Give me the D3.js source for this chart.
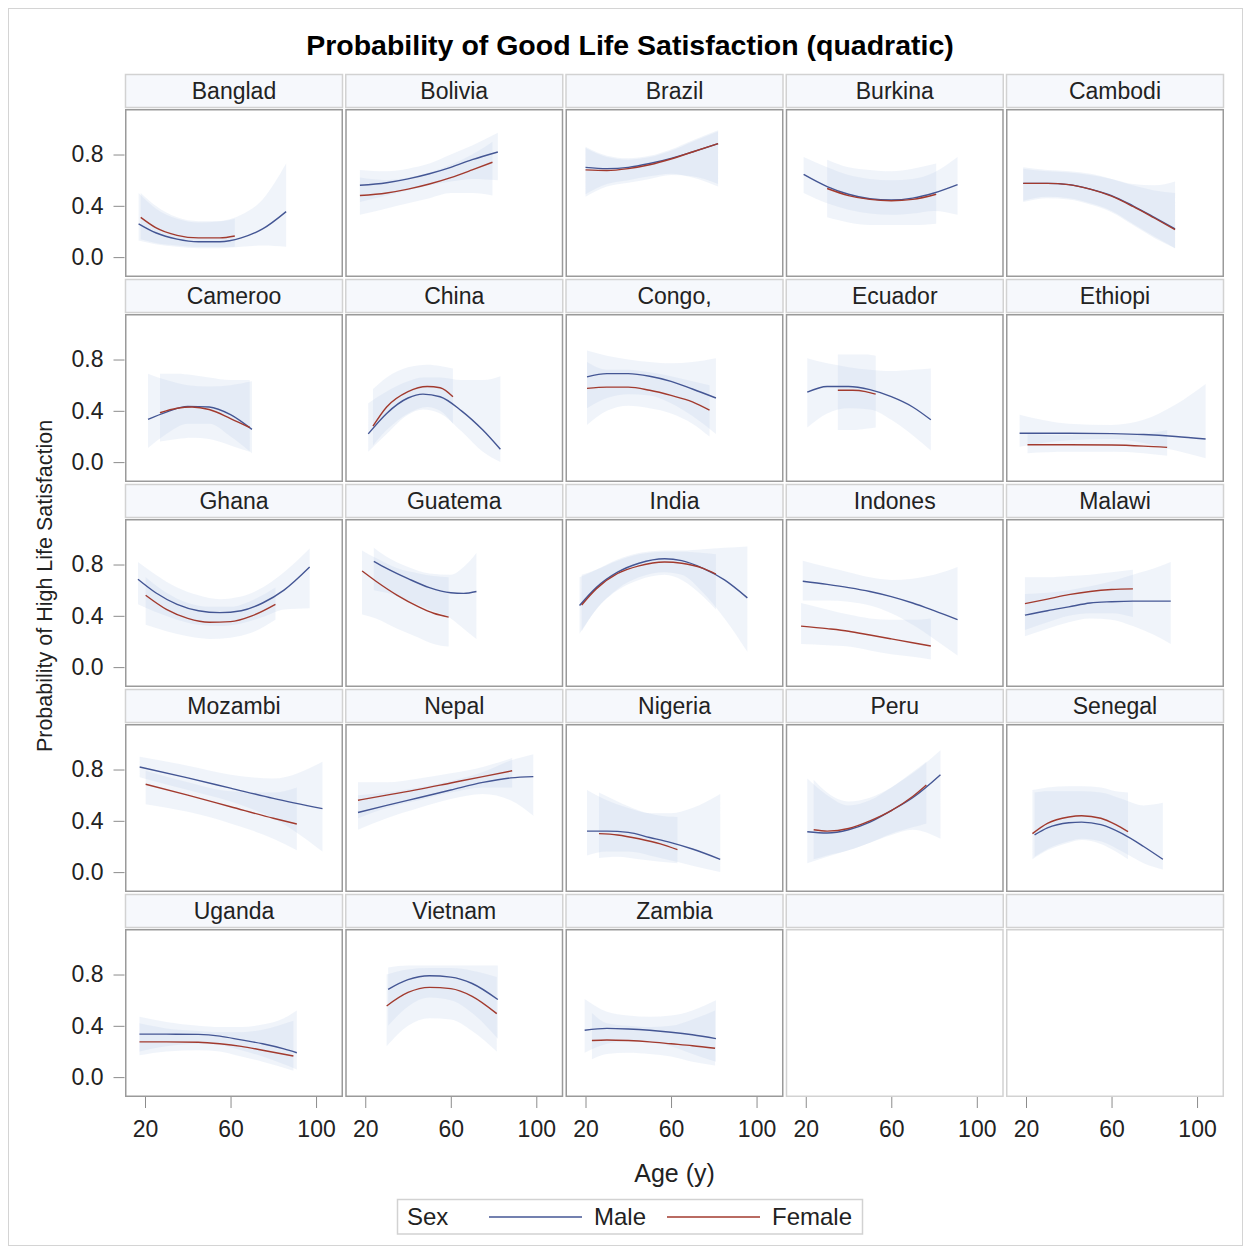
<!DOCTYPE html>
<html lang="en">
<head>
    <meta charset="UTF-8">
    <title>Probability of Good Life Satisfaction (quadratic)</title>
    <script src="https://cdn.jsdelivr.net/npm/d3@7/dist/d3.min.js"></script>
    <style>
        body { margin: 0; background: #fff; }
        text { font-family: "Liberation Sans", Arial, sans-serif; fill: #222; }
    </style>
</head>
<body>

<script>
    // panel labels, as truncated in the original output
    var countries = ["Banglad", "Bolivia", "Brazil", "Burkina", "Cambodi",
        "Cameroo", "China", "Congo,", "Ecuador", "Ethiopi",
        "Ghana", "Guatema", "India", "Indones", "Malawi",
        "Mozambi", "Nepal", "Nigeria", "Peru", "Senegal",
        "Uganda", "Vietnam", "Zambia"];

    var sexes = ["Male", "Female"];
    var xTicks = [20, 60, 100];
    var yTicks = [0.0, 0.4, 0.8];

    // male: age, fitted probability, lower and upper limits
    var maleAge = [
        [17, 25, 35, 45, 55, 65, 75, 86],
        [17.5, 30, 40, 50, 60, 70, 82],
        [20, 30, 40, 50, 60, 70, 82],
        [19, 30, 40, 50, 60, 70, 80, 91],
        [18.7, 30, 40, 50, 60, 70, 80, 89.7],
        [21.4, 30, 40, 50, 60, 70],
        [21.4, 30, 40, 47, 55, 65, 75, 83.2],
        [20.7, 30, 40, 50, 60, 70, 81],
        [20.7, 30, 40, 50, 60, 70, 78.5],
        [17, 40, 60, 75, 90, 104],
        [16.7, 25, 35, 45, 55, 65, 75, 85, 97],
        [24, 30, 40, 50, 60, 66, 72],
        [17.2, 25, 35, 45, 57, 65, 75, 85, 95.7],
        [18.6, 30, 40, 50, 60, 70, 80, 91],
        [19.5, 30, 40, 50, 60, 70, 80, 87.7],
        [17.5, 40, 60, 80, 103],
        [16.6, 30, 45, 60, 75, 88, 98.6],
        [20.7, 30, 40, 50, 60, 70, 83],
        [20.7, 30, 40, 50, 60, 70, 83],
        [24, 30, 40, 46, 55, 65, 75, 84],
        [17.4, 30, 45, 55, 65, 75, 85, 91],
        [30.7, 40, 50, 60, 70, 82],
        [19.6, 30, 40, 50, 60, 70, 81]
    ];
    var maleFit = [
        [0.26, 0.19, 0.14, 0.12, 0.12, 0.15, 0.22, 0.355],
        [0.56, 0.58, 0.61, 0.65, 0.70, 0.76, 0.82],
        [0.70, 0.69, 0.70, 0.73, 0.77, 0.82, 0.885],
        [0.645, 0.55, 0.49, 0.455, 0.445, 0.46, 0.50, 0.565],
        [0.575, 0.575, 0.565, 0.53, 0.48, 0.40, 0.31, 0.22],
        [0.333, 0.39, 0.435, 0.43, 0.37, 0.255],
        [0.22, 0.38, 0.50, 0.53, 0.51, 0.40, 0.25, 0.10],
        [0.665, 0.69, 0.69, 0.67, 0.63, 0.57, 0.50],
        [0.545, 0.59, 0.59, 0.565, 0.51, 0.43, 0.33],
        [0.225, 0.225, 0.222, 0.215, 0.20, 0.18],
        [0.685, 0.58, 0.49, 0.44, 0.425, 0.44, 0.50, 0.60, 0.78],
        [0.825, 0.77, 0.69, 0.62, 0.58, 0.575, 0.59],
        [0.48, 0.62, 0.74, 0.81, 0.845, 0.83, 0.77, 0.68, 0.54],
        [0.67, 0.645, 0.62, 0.59, 0.55, 0.50, 0.44, 0.37],
        [0.405, 0.44, 0.47, 0.50, 0.51, 0.515, 0.515, 0.515],
        [0.82, 0.735, 0.655, 0.575, 0.495],
        [0.465, 0.52, 0.58, 0.64, 0.70, 0.735, 0.745],
        [0.32, 0.32, 0.31, 0.27, 0.23, 0.18, 0.10],
        [0.315, 0.305, 0.33, 0.39, 0.48, 0.58, 0.76],
        [0.29, 0.345, 0.385, 0.39, 0.37, 0.30, 0.20, 0.10],
        [0.335, 0.335, 0.333, 0.32, 0.29, 0.26, 0.22, 0.19],
        [0.685, 0.76, 0.79, 0.78, 0.73, 0.605],
        [0.365, 0.38, 0.375, 0.365, 0.35, 0.33, 0.30]
    ];
    var maleLo = [
        [0.13, 0.10, 0.08, 0.07, 0.07, 0.08, 0.09, 0.08],
        [0.43, 0.48, 0.52, 0.56, 0.59, 0.61, 0.60],
        [0.49, 0.57, 0.60, 0.63, 0.65, 0.62, 0.55],
        [0.50, 0.42, 0.37, 0.34, 0.33, 0.34, 0.36, 0.33],
        [0.44, 0.47, 0.46, 0.42, 0.36, 0.26, 0.16, 0.07],
        [0.11, 0.22, 0.30, 0.30, 0.20, 0.07],
        [0.08, 0.22, 0.37, 0.41, 0.38, 0.24, 0.08, 0.0],
        [0.42, 0.50, 0.53, 0.52, 0.46, 0.36, 0.22],
        [0.27, 0.38, 0.42, 0.41, 0.33, 0.21, 0.09],
        [0.12, 0.17, 0.18, 0.15, 0.09, 0.03],
        [0.49, 0.43, 0.37, 0.33, 0.32, 0.34, 0.39, 0.45, 0.46],
        [0.60, 0.58, 0.52, 0.45, 0.38, 0.30, 0.22],
        [0.26, 0.45, 0.61, 0.70, 0.74, 0.72, 0.58, 0.38, 0.12],
        [0.52, 0.52, 0.51, 0.48, 0.42, 0.33, 0.22, 0.09],
        [0.24, 0.30, 0.35, 0.38, 0.37, 0.32, 0.25, 0.18],
        [0.74, 0.64, 0.55, 0.42, 0.16],
        [0.33, 0.42, 0.50, 0.57, 0.61, 0.56, 0.44],
        [0.13, 0.16, 0.16, 0.13, 0.09, 0.05, 0.0],
        [0.07, 0.12, 0.17, 0.23, 0.29, 0.33, 0.26],
        [0.12, 0.18, 0.24, 0.26, 0.24, 0.16, 0.07, 0.02],
        [0.20, 0.24, 0.26, 0.25, 0.21, 0.16, 0.10, 0.06],
        [0.40, 0.55, 0.62, 0.60, 0.50, 0.30],
        [0.19, 0.26, 0.28, 0.27, 0.24, 0.18, 0.12]
    ];
    var maleHi = [
        [0.50, 0.38, 0.30, 0.27, 0.28, 0.33, 0.45, 0.73],
        [0.68, 0.67, 0.69, 0.73, 0.80, 0.87, 0.97],
        [0.86, 0.79, 0.77, 0.79, 0.84, 0.91, 0.99],
        [0.78, 0.70, 0.64, 0.61, 0.60, 0.61, 0.66, 0.78],
        [0.69, 0.67, 0.66, 0.64, 0.61, 0.57, 0.56, 0.59],
        [0.69, 0.64, 0.60, 0.59, 0.60, 0.63],
        [0.46, 0.55, 0.63, 0.66, 0.66, 0.64, 0.64, 0.67],
        [0.87, 0.83, 0.80, 0.78, 0.77, 0.78, 0.81],
        [0.81, 0.77, 0.74, 0.72, 0.71, 0.72, 0.73],
        [0.37, 0.30, 0.29, 0.33, 0.45, 0.61],
        [0.82, 0.72, 0.62, 0.56, 0.53, 0.55, 0.62, 0.74, 0.925],
        [0.93, 0.86, 0.78, 0.73, 0.72, 0.78, 0.89],
        [0.70, 0.76, 0.84, 0.89, 0.91, 0.91, 0.92, 0.93, 0.94],
        [0.83, 0.78, 0.74, 0.70, 0.68, 0.69, 0.72, 0.78],
        [0.57, 0.58, 0.60, 0.63, 0.67, 0.72, 0.77, 0.82],
        [0.90, 0.83, 0.76, 0.73, 0.86],
        [0.60, 0.62, 0.66, 0.71, 0.78, 0.87, 0.92],
        [0.64, 0.56, 0.50, 0.46, 0.46, 0.50, 0.61],
        [0.73, 0.60, 0.52, 0.56, 0.66, 0.77, 0.95],
        [0.62, 0.63, 0.63, 0.63, 0.62, 0.57, 0.52, 0.54],
        [0.47, 0.43, 0.40, 0.39, 0.39, 0.41, 0.46, 0.52],
        [0.855, 0.87, 0.87, 0.87, 0.87, 0.87],
        [0.61, 0.51, 0.48, 0.47, 0.48, 0.52, 0.60]
    ];

    // female: same layout
    var femaleAge = [
        [18, 25, 35, 45, 55, 62],
        [17.5, 30, 40, 50, 60, 70, 79.5],
        [20, 30, 40, 50, 60, 70, 82],
        [30, 40, 50, 60, 70, 81],
        [18.7, 30, 40, 50, 60, 70, 80, 89.7],
        [27, 35, 42, 50, 60, 69],
        [23.6, 30, 40, 49, 55, 61],
        [20.7, 30, 40, 50, 60, 70, 78],
        [35, 42, 48, 52.7],
        [20.7, 40, 60, 75, 86],
        [20.3, 30, 40, 50, 60, 70, 81],
        [18.5, 25, 35, 45, 52, 59],
        [18.2, 25, 35, 45, 57, 65, 75, 81],
        [17.8, 30, 40, 50, 60, 70, 78.5],
        [19.5, 30, 40, 50, 60, 70],
        [20.3, 40, 60, 80, 91],
        [16.6, 30, 45, 60, 75, 88.7],
        [26.3, 35, 45, 55, 63],
        [23.7, 30, 40, 50, 60, 70, 76.4],
        [23, 30, 40, 46, 55, 62, 67.7],
        [17.4, 30, 45, 55, 65, 75, 89.4],
        [30, 40, 50, 60, 70, 81.5],
        [23, 30, 40, 50, 60, 70, 80.6]
    ];
    var femaleFit = [
        [0.31, 0.23, 0.17, 0.15, 0.15, 0.165],
        [0.48, 0.50, 0.53, 0.57, 0.62, 0.68, 0.74],
        [0.68, 0.675, 0.69, 0.72, 0.765, 0.82, 0.885],
        [0.535, 0.48, 0.45, 0.44, 0.45, 0.49],
        [0.575, 0.575, 0.565, 0.53, 0.475, 0.395, 0.305, 0.215],
        [0.385, 0.42, 0.43, 0.41, 0.34, 0.27],
        [0.28, 0.43, 0.55, 0.59, 0.58, 0.51],
        [0.575, 0.585, 0.585, 0.56, 0.52, 0.47, 0.405],
        [0.56, 0.56, 0.55, 0.53],
        [0.135, 0.135, 0.133, 0.125, 0.115],
        [0.56, 0.45, 0.38, 0.35, 0.355, 0.40, 0.49],
        [0.75, 0.67, 0.56, 0.47, 0.42, 0.39],
        [0.485, 0.61, 0.73, 0.79, 0.82, 0.81, 0.77, 0.725],
        [0.32, 0.30, 0.28, 0.25, 0.22, 0.19, 0.165],
        [0.495, 0.53, 0.565, 0.59, 0.605, 0.61],
        [0.685, 0.60, 0.51, 0.42, 0.375],
        [0.56, 0.60, 0.645, 0.695, 0.745, 0.79],
        [0.30, 0.29, 0.26, 0.22, 0.175],
        [0.33, 0.32, 0.34, 0.40, 0.48, 0.59, 0.68],
        [0.30, 0.38, 0.43, 0.44, 0.42, 0.37, 0.315],
        [0.275, 0.275, 0.272, 0.26, 0.24, 0.21, 0.165],
        [0.555, 0.66, 0.70, 0.69, 0.63, 0.495],
        [0.285, 0.29, 0.285, 0.275, 0.26, 0.245, 0.225]
    ];
    var femaleLo = [
        [0.14, 0.11, 0.09, 0.08, 0.08, 0.08],
        [0.33, 0.38, 0.42, 0.46, 0.50, 0.50, 0.48],
        [0.47, 0.55, 0.58, 0.61, 0.64, 0.63, 0.57],
        [0.31, 0.27, 0.25, 0.25, 0.25, 0.26],
        [0.43, 0.46, 0.45, 0.41, 0.35, 0.25, 0.15, 0.07],
        [0.16, 0.18, 0.19, 0.18, 0.13, 0.08],
        [0.13, 0.25, 0.38, 0.43, 0.40, 0.30],
        [0.29, 0.40, 0.44, 0.42, 0.38, 0.30, 0.20],
        [0.25, 0.25, 0.26, 0.27],
        [0.07, 0.08, 0.08, 0.07, 0.05],
        [0.33, 0.28, 0.24, 0.22, 0.23, 0.27, 0.37],
        [0.41, 0.38, 0.30, 0.23, 0.18, 0.16],
        [0.28, 0.45, 0.60, 0.68, 0.72, 0.68, 0.55, 0.45],
        [0.18, 0.17, 0.16, 0.13, 0.10, 0.08, 0.06],
        [0.29, 0.35, 0.40, 0.42, 0.42, 0.39],
        [0.53, 0.47, 0.38, 0.26, 0.17],
        [0.42, 0.50, 0.56, 0.62, 0.66, 0.66],
        [0.11, 0.12, 0.10, 0.08, 0.07],
        [0.10, 0.13, 0.17, 0.23, 0.30, 0.35, 0.38],
        [0.10, 0.17, 0.23, 0.25, 0.22, 0.16, 0.10],
        [0.17, 0.20, 0.21, 0.20, 0.16, 0.12, 0.05],
        [0.24, 0.40, 0.46, 0.45, 0.36, 0.20],
        [0.14, 0.18, 0.19, 0.18, 0.16, 0.12, 0.09]
    ];
    var femaleHi = [
        [0.50, 0.40, 0.31, 0.28, 0.28, 0.30],
        [0.62, 0.60, 0.62, 0.66, 0.72, 0.80, 0.90],
        [0.85, 0.78, 0.76, 0.78, 0.83, 0.90, 0.98],
        [0.76, 0.70, 0.68, 0.67, 0.69, 0.73],
        [0.70, 0.68, 0.67, 0.65, 0.61, 0.56, 0.52, 0.50],
        [0.69, 0.69, 0.68, 0.66, 0.64, 0.64],
        [0.57, 0.66, 0.74, 0.76, 0.75, 0.73],
        [0.78, 0.72, 0.72, 0.70, 0.67, 0.63, 0.60],
        [0.84, 0.84, 0.84, 0.83],
        [0.22, 0.21, 0.21, 0.22, 0.25],
        [0.70, 0.58, 0.50, 0.47, 0.47, 0.52, 0.62],
        [0.91, 0.85, 0.77, 0.73, 0.71, 0.70],
        [0.72, 0.76, 0.83, 0.88, 0.90, 0.90, 0.89, 0.88],
        [0.50, 0.45, 0.41, 0.38, 0.37, 0.37, 0.38],
        [0.70, 0.70, 0.71, 0.72, 0.74, 0.76],
        [0.79, 0.70, 0.63, 0.62, 0.66],
        [0.70, 0.70, 0.73, 0.77, 0.82, 0.89],
        [0.62, 0.55, 0.48, 0.44, 0.43],
        [0.72, 0.62, 0.55, 0.58, 0.66, 0.78, 0.86],
        [0.64, 0.66, 0.67, 0.67, 0.66, 0.63, 0.62],
        [0.42, 0.38, 0.36, 0.35, 0.35, 0.37, 0.44],
        [0.80, 0.84, 0.85, 0.85, 0.83, 0.78],
        [0.50, 0.42, 0.40, 0.39, 0.40, 0.45, 0.52]
    ];

    var colors = {"Male": "#445694", "Female": "#a23a2e"};

    var width = 1250, height = 1249;
    var nCols = 5, nRows = 5;
    var gridLeft = 125, colPitch = 220.25, cellW = 218;
    var gridTop = 74, rowPitch = 205, headH = 33, plotTop = 35, plotH = 168;

    var svg = d3.select("body").append("svg")
        .attr("width", width)
        .attr("height", height);

    // outer frame
    svg.append("rect")
        .attr("x", 8.5).attr("y", 8.5)
        .attr("width", 1234).attr("height", 1237)
        .attr("fill", "none")
        .attr("stroke", "#d4d4d4");

    svg.append("text")
        .attr("x", 630).attr("y", 55)
        .attr("text-anchor", "middle")
        .style("font-size", "28.5px")
        .style("font-weight", "bold")
        .style("fill", "#000")
        .text("Probability of Good Life Satisfaction (quadratic)");

    var x = d3.scaleLinear().domain([10.64, 112.6]).range([0, cellW]);
    var y = d3.scaleLinear().domain([-0.155, 1.155]).range([plotH, 0]);

    var lineFunction = d3.line()
        .x(function (d) { return x(d[0]); })
        .y(function (d) { return y(d[1]); })
        .curve(d3.curveMonotoneX);

    var bandFunction = d3.area()
        .x(function (d) { return x(d[0]); })
        .y0(function (d) { return y(d[2]); })
        .y1(function (d) { return y(d[3]); })
        .curve(d3.curveMonotoneX);

    function seriesFor(sex, i) {
        if (sex === "Male") return d3.zip(maleAge[i], maleFit[i], maleLo[i], maleHi[i]);
        return d3.zip(femaleAge[i], femaleFit[i], femaleLo[i], femaleHi[i]);
    }

    for (var k = 0; k < nCols * nRows; k++) {
        var row = Math.floor(k / nCols), col = k % nCols;
        var hasData = k < countries.length;

        var cell = svg.append("g")
            .attr("transform", "translate(" + (gridLeft + col * colPitch) + "," + (gridTop + row * rowPitch) + ")");

        // header strip
        cell.append("rect")
            .attr("x", 0.5).attr("y", 0.5)
            .attr("width", cellW - 1).attr("height", headH)
            .attr("fill", "#f6f8fc")
            .attr("stroke", "#d2d2d2")
            .attr("stroke-width", 1.5);

        if (hasData) {
            cell.append("text")
                .attr("x", cellW / 2).attr("y", 24.5)
                .attr("text-anchor", "middle")
                .style("font-size", "23px")
                .text(countries[k]);
        }

        var plot = cell.append("g")
            .attr("transform", "translate(0," + plotTop + ")");

        if (hasData) {
            sexes.forEach(function (sex) {
                plot.append("path")
                    .attr("d", bandFunction(seriesFor(sex, k)))
                    .attr("fill", "#b9cfe7")
                    .attr("fill-opacity", 0.22);
            });
            sexes.forEach(function (sex) {
                plot.append("path")
                    .attr("d", lineFunction(seriesFor(sex, k)))
                    .attr("fill", "none")
                    .attr("stroke", colors[sex])
                    .attr("stroke-width", 1.4);
            });
        }

        plot.append("rect")
            .attr("x", 0.75).attr("y", 0.75)
            .attr("width", cellW - 1.5).attr("height", plotH - 1.5)
            .attr("fill", "none")
            .attr("stroke", hasData ? "#9a9a9a" : "#d2d2d2")
            .attr("stroke-width", 1.5);

        if (col === 0) {
            var ya = plot.append("g")
                .attr("transform", "translate(-0.5,0)")
                .call(d3.axisLeft(y).tickValues(yTicks).tickFormat(d3.format(".1f")).tickSize(11).tickPadding(10));
            ya.select(".domain").remove();
            ya.selectAll("line").attr("stroke", "#8c8c8c");
            ya.selectAll("text").style("font-size", "23px").attr("fill", null);
        }

        if (row === nRows - 1) {
            var xa = plot.append("g")
                .attr("transform", "translate(0," + plotH + ")")
                .call(d3.axisBottom(x).tickValues(xTicks).tickSize(11).tickPadding(13));
            xa.select(".domain").remove();
            xa.selectAll("line").attr("stroke", "#8c8c8c");
            xa.selectAll("text").style("font-size", "23px").attr("fill", null);
        }
    }
    svg.selectAll(".tick text").attr("font-family", null);

    // axis titles
    svg.append("text")
        .attr("x", 674.5).attr("y", 1181.5)
        .attr("text-anchor", "middle")
        .style("font-size", "25px")
        .text("Age (y)");

    svg.append("text")
        .attr("transform", "translate(52,586) rotate(-90)")
        .attr("text-anchor", "middle")
        .style("font-size", "21.5px")
        .text("Probability of High Life Satisfaction");

    // legend
    var legend = svg.append("g");
    legend.append("rect")
        .attr("x", 397.5).attr("y", 1199.5)
        .attr("width", 465).attr("height", 34.5)
        .attr("fill", "#fff")
        .attr("stroke", "#d2d2d2")
        .attr("stroke-width", 1.5);
    legend.append("text")
        .attr("x", 407).attr("y", 1225)
        .style("font-size", "24px")
        .text("Sex");

    var legendX = [489, 667];
    sexes.forEach(function (sex, i) {
        legend.append("line")
            .attr("x1", legendX[i]).attr("x2", legendX[i] + 93)
            .attr("y1", 1217).attr("y2", 1217)
            .attr("stroke", colors[sex])
            .attr("stroke-width", 1.6);
        legend.append("text")
            .attr("x", legendX[i] + 105).attr("y", 1225)
            .style("font-size", "24px")
            .text(sex);
    });
</script>
</body>
</html>
